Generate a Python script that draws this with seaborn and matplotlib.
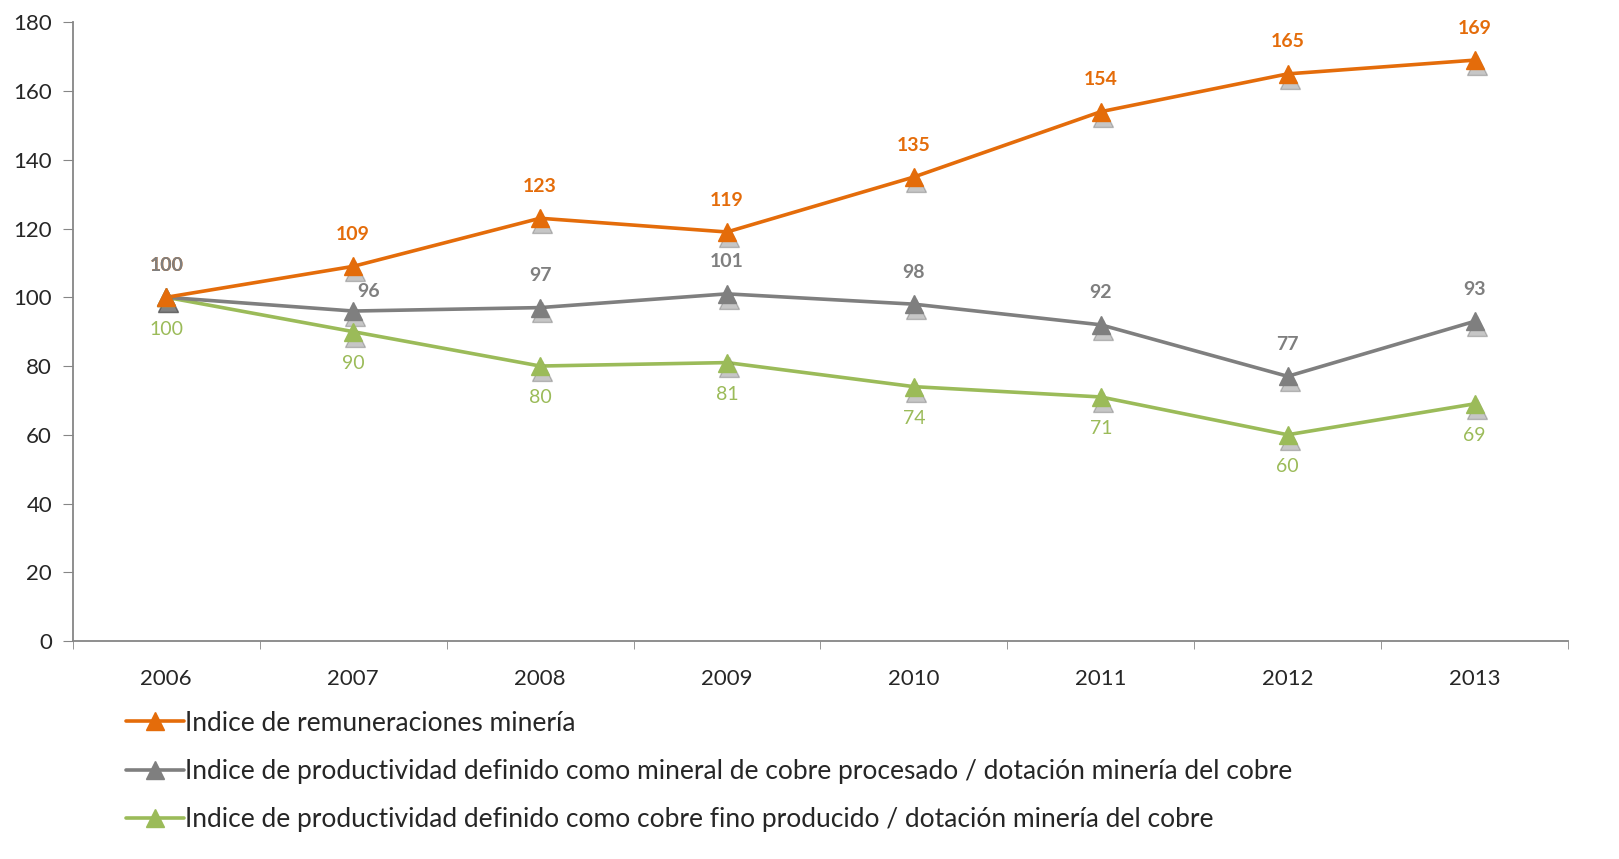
import matplotlib
matplotlib.use("Agg")
import matplotlib.pyplot as plt
import matplotlib.transforms as mtransforms
import seaborn as sns
import pandas as pd
import numpy as np

years = ["2006", "2007", "2008", "2009", "2010", "2011", "2012", "2013"]
remuneraciones = [100, 109, 123, 119, 135, 154, 165, 169]
prod_mineral = [100, 96, 97, 101, 98, 92, 77, 93]
prod_fino = [100, 90, 80, 81, 74, 71, 60, 69]

nombres = [
    "Indice de remuneraciones minería",
    "Indice de productividad definido como mineral de cobre procesado / dotación minería del cobre",
    "Indice de productividad definido como cobre fino producido / dotación minería del cobre",
]
colores = ["#E46C0A", "#7F7F7F", "#9BBB59"]

sns.set_style("white")
plt.rcParams["font.family"] = ["Lato", "DejaVu Sans"]

pos = np.arange(len(years))
df = pd.DataFrame({
    "pos": np.tile(pos, 3),
    "valor": remuneraciones + prod_mineral + prod_fino,
    "serie": np.repeat(nombres, len(years)),
})

fig = plt.figure(figsize=(16.19, 8.59), dpi=100)
ax = fig.add_axes([0.045, 0.2538, 0.9235, 0.7202])

# sombra de los marcadores, desplazada un poco hacia abajo
sombra_tr = mtransforms.offset_copy(ax.transData, fig=fig, x=1.5, y=-3.5, units="points")

# dibujar en orden inverso para que el naranja quede arriba
for k, (nombre, color) in enumerate(list(zip(nombres, colores))[::-1]):
    sub = df[df["serie"] == nombre]
    sns.lineplot(data=sub, x="pos", y="valor", color=color, linewidth=2.6, ax=ax, legend=False, zorder=2 + k)
    ax.plot(sub["pos"], sub["valor"], linestyle="none", marker="^", markersize=14,
            color="#444444", alpha=0.3, transform=sombra_tr, zorder=5)
    ax.plot(sub["pos"], sub["valor"], linestyle="none", marker="^", markersize=13,
            color=color, zorder=6 + k)

# etiquetas
for i, v in enumerate(prod_fino):
    ax.annotate(str(v), (i, v), xytext=(0, -23), textcoords="offset points",
                ha="center", va="center", color="#9BBB59", fontsize=14)
for i, v in enumerate(remuneraciones):
    ax.annotate(str(v), (i, v), xytext=(0, 23), textcoords="offset points",
                ha="center", va="center", color="#E46C0A", fontsize=14, fontweight="bold")
for i, v in enumerate(prod_mineral):
    off = (11, 14) if i == 1 else (0, 23)
    ax.annotate(str(v), (i, v), xytext=off, textcoords="offset points",
                ha="center", va="center", color="#7F7F7F", fontsize=14, fontweight="bold")

ax.set_xlim(-0.5, len(years) - 0.5)
ax.set_ylim(0, 180)
ax.set_yticks(range(0, 181, 20))
ax.tick_params(axis="y", labelsize=16, length=7, color="#868686", direction="out", left=True, pad=8)
ax.set_xticks(pos)
ax.set_xticklabels(years)
ax.tick_params(axis="x", which="major", labelsize=16, length=0, pad=20)
ax.set_xticks(np.arange(-0.5, len(years), 1), minor=True)
ax.tick_params(axis="x", which="minor", length=6, color="#868686", direction="out", bottom=True)
ax.set_xlabel("")
ax.set_ylabel("")
for s in ["top", "right"]:
    ax.spines[s].set_visible(False)
for s in ["left", "bottom"]:
    ax.spines[s].set_color("#868686")
    ax.spines[s].set_linewidth(1.3)

handles = [plt.Line2D([], [], color=c, linewidth=2.6, marker="^", markersize=13) for c in colores]
fig.legend(handles, nombres, loc="upper left", bbox_to_anchor=(0.071, 0.185), frameon=False,
           fontsize=19, handlelength=2.2, handletextpad=0.05, labelspacing=0.88, borderaxespad=0)

fig.savefig("out.png", dpi=100)
